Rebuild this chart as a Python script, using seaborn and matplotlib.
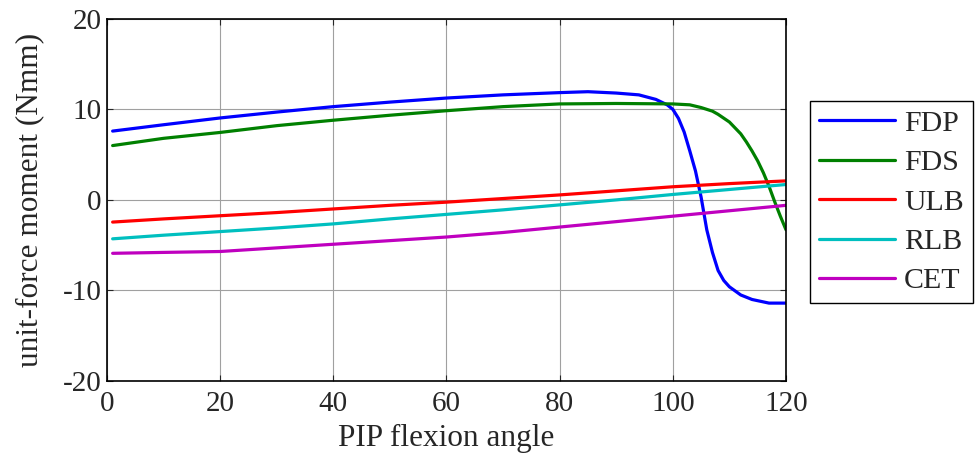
import matplotlib
matplotlib.use("Agg")
import matplotlib.pyplot as plt
import seaborn as sns
import pandas as pd

# values
fdp_x = [1, 10, 20, 30, 40, 50, 60, 70, 80, 85, 90, 94, 97, 98, 99, 100, 101, 102, 103, 104,
         105, 106, 107, 108, 109, 110, 112, 114, 117, 120]
fdp_y = [7.6, 8.3, 9.05, 9.7, 10.3, 10.8, 11.25, 11.6, 11.85, 11.95, 11.8, 11.6, 11.1, 10.8, 10.5,
         10.0, 9.0, 7.5, 5.4, 3.2, 0.3, -3.3, -5.8, -7.8, -8.9, -9.6, -10.5, -11.0, -11.4, -11.4]

fds_x = [1, 10, 20, 30, 40, 50, 60, 70, 80, 90, 100, 103, 105, 107, 108, 110, 112, 113, 114,
         115, 116, 117, 118, 119, 120]
fds_y = [6.0, 6.8, 7.45, 8.2, 8.8, 9.35, 9.85, 10.3, 10.6, 10.65, 10.6, 10.5, 10.2, 9.8, 9.45,
         8.6, 7.3, 6.4, 5.4, 4.3, 3.0, 1.5, -0.2, -1.8, -3.3]

lin_x = [1, 10, 20, 30, 40, 50, 60, 70, 80, 90, 100, 110, 120]
ulb_y = [-2.45, -2.1, -1.75, -1.4, -1.0, -0.6, -0.25, 0.15, 0.55, 1.0, 1.45, 1.8, 2.1]
rlb_y = [-4.3, -3.9, -3.5, -3.1, -2.65, -2.1, -1.6, -1.1, -0.55, 0.0, 0.6, 1.15, 1.7]
cet_y = [-5.9, -5.8, -5.7, -5.3, -4.9, -4.5, -4.1, -3.6, -3.0, -2.4, -1.8, -1.2, -0.6]

series = ["FDP", "FDS", "ULB", "RLB", "CET"]
colors = ["#0000ff", "#008000", "#ff0000", "#00bfbf", "#bf00bf"]

frames = [
    pd.DataFrame({"angle": fdp_x, "moment": fdp_y, "tendon": "FDP"}),
    pd.DataFrame({"angle": fds_x, "moment": fds_y, "tendon": "FDS"}),
    pd.DataFrame({"angle": lin_x, "moment": ulb_y, "tendon": "ULB"}),
    pd.DataFrame({"angle": lin_x, "moment": rlb_y, "tendon": "RLB"}),
    pd.DataFrame({"angle": lin_x, "moment": cet_y, "tendon": "CET"}),
]
df = pd.concat(frames, ignore_index=True)

sns.set_style("ticks")
plt.rcParams["font.family"] = ["Liberation Serif", "DejaVu Serif"]
plt.rcParams["axes.unicode_minus"] = False

fig, ax = plt.subplots(figsize=(9.77, 4.59), dpi=100)
fig.subplots_adjust(left=0.1095, right=0.8045, top=0.959, bottom=0.17)

sns.lineplot(data=df, x="angle", y="moment", hue="tendon", hue_order=series,
             palette=dict(zip(series, colors)), linewidth=2.3, ax=ax, sort=True,
             estimator=None)

ax.set_xlim(0, 120)
ax.set_ylim(-20, 20)
ax.set_xticks([0, 20, 40, 60, 80, 100, 120])
ax.set_yticks([-20, -10, 0, 10, 20])
ax.grid(True, color="#a0a0a0", linewidth=0.8)
ax.tick_params(direction="in", top=True, right=True, length=4, labelsize=21)
ax.tick_params(axis="x", pad=7)
ax.tick_params(axis="y", pad=4)
for s in ax.spines.values():
    s.set_visible(True)
    s.set_color("black")
    s.set_linewidth(1.2)

ax.set_xlabel("PIP flexion angle", fontsize=22.5, labelpad=5)
ax.set_ylabel("unit-force moment (Nmm)", fontsize=22.5)
ax.yaxis.set_label_coords(-0.093, 0.5)

leg = ax.legend(loc="center left", bbox_to_anchor=(1.0353, 0.494), fontsize=21.5,
                frameon=True, fancybox=False, edgecolor="black", framealpha=1,
                handlelength=2.55, handletextpad=0.3, labelspacing=0.42,
                borderpad=0.3, borderaxespad=0)
leg.get_frame().set_linewidth(1.0)

fig.savefig("out.png", dpi=100)
